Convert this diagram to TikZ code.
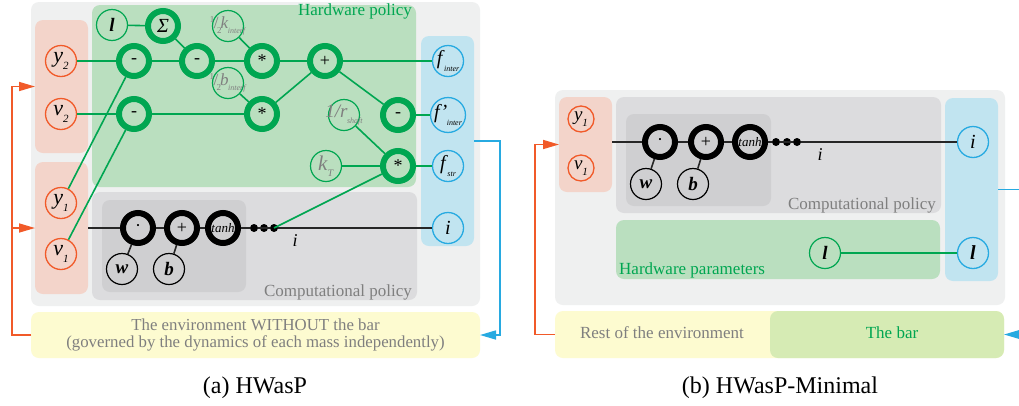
\documentclass[tikz,border=0pt]{standalone}
\usepackage{fontspec}
\setmainfont{Liberation Serif}
\usetikzlibrary{arrows.meta}
\definecolor{cOuter}{HTML}{EFF0F0}
\definecolor{cPink}{HTML}{F3D4CA}
\definecolor{cGreenBox}{HTML}{BADFBF}
\definecolor{cComp}{HTML}{DCDCDE}
\definecolor{cCompIn}{HTML}{CFCFD1}
\definecolor{cBlueBox}{HTML}{C1E4F0}
\definecolor{cYellow}{HTML}{FDFBD0}
\definecolor{cBar}{HTML}{D6EBB4}
\definecolor{cOrange}{HTML}{F15A29}
\definecolor{cBlue}{HTML}{27AAE1}
\definecolor{cGreen}{HTML}{00A651}
\definecolor{cGrayT}{HTML}{7F7F7F}
\newcommand\fs[1]{\fontsize{#1}{#1}\selectfont}
\newcommand\nsub[2]{\textit{#1}\raisebox{-0.3em}{\fs{11}\textit{#2}}}
\newcommand\tsub[2]{\textit{#1}\kern-0.5pt\raisebox{-0.35em}{\fs{8}\textit{#2}}}
\newcommand\half{\raisebox{0.3em}{\fs{9}1}\kern-0.5pt/\kern-1.5pt\raisebox{-0.3em}{\fs{9}2}}
\newcommand\fitin[1]{\raisebox{0pt}[8pt][4pt]{\makebox[22pt][c]{#1}}}
\tikzset{
  x=1pt, y=-1pt,
  box/.style={rounded corners=8pt, inner sep=0pt, outer sep=0pt, anchor=north west},
  onode/.style={circle, draw=cOrange, line width=1.3pt, minimum size=31pt, inner sep=0pt, font=\fs{22}},
  gthin/.style={circle, draw=cGreen, line width=1.2pt, minimum size=31pt, inner sep=0pt, font=\fs{19}},
  gthick/.style={circle, draw=cGreen, line width=6pt, minimum size=30pt, inner sep=0pt, font=\fs{18}},
  bnode/.style={circle, draw=cBlue, line width=1.3pt, minimum size=31pt, inner sep=0pt, font=\fs{20}},
  kthick/.style={circle, draw=black, line width=6pt, minimum size=30pt, inner sep=0pt, font=\fs{18}},
  kthin/.style={circle, draw=black, line width=1.2pt, minimum size=31pt, inner sep=0pt, font=\fs{19}},
  dotn/.style={circle, fill=black, minimum size=8pt, inner sep=0pt},
  gline/.style={draw=cGreen, line width=1.6pt},
  kline/.style={draw=black!85, line width=1.6pt},
  oline/.style={draw=cOrange, line width=1.6pt, -{Triangle[length=16pt,width=9pt]}},
  bline/.style={draw=cBlue, line width=1.6pt, -{Triangle[length=16pt,width=9pt]}},
  lbl/.style={inner sep=0pt, font=\fs{17}},
}
\begin{document}
\begin{tikzpicture}
\clip (0,0) rectangle (1019,405);
\fill[white] (0,0) rectangle (1019,405);
% ---------------- Panel (a) boxes
\node[box, fill=cOuter, minimum width=449pt, minimum height=304pt] (outerA) at (31,2) {};
\node[box, fill=cPink, minimum width=53pt, minimum height=133pt] (pinkTopA) at (35,20) {};
\node[box, fill=cPink, minimum width=53pt, minimum height=132pt] (pinkBotA) at (35,162) {};
\node[box, fill=cGreenBox, minimum width=324pt, minimum height=182pt] (hwA) at (92,5) {};
\node[box, fill=cComp, minimum width=325pt, minimum height=108pt] (compA) at (92,192) {};
\node[box, fill=cCompIn, minimum width=144pt, minimum height=92pt] (compInA) at (102,200) {};
\node[box, fill=cBlueBox, minimum width=53pt, minimum height=210pt] (blueA) at (421,36) {};
\node[box, fill=cYellow, minimum width=449pt, minimum height=46pt] (envA) at (31,312) {};
\node[lbl, text=cGreen, anchor=north east] (hwlblA) at (412,4) {Hardware policy};
\node[lbl, text=cGrayT, anchor=base east] (complblA) at (412,296) {Computational policy};
\node[lbl, text=cGrayT, align=center, font=\fs{16.8}\linespread{1.05}\selectfont] (envtxtA) at (envA.center) {The environment WITHOUT the bar\\(governed by the dynamics of each mass independently)};
% ---------------- Panel (a) nodes
\node[onode] (y2) at (61,61) {\nsub{y}{2}};
\node[onode] (v2) at (61,114) {\nsub{v}{2}};
\node[onode] (y1) at (61,203) {\nsub{y}{1}};
\node[onode] (v1) at (61,254) {\nsub{v}{1}};
\node[gthin] (lA) at (112,25) {\textbf{\textit{l}}};
\node[gthick, font=\fs{20}] (sig) at (163,26) {\textit{Σ}};
\node[gthick] (m1) at (134,61) {-};
\node[gthick] (m2) at (197,61) {-};
\node[gthick] (m3) at (134,114) {-};
\node[gthin, text=cGrayT, font=\fs{17}] (hk) at (228,26) {\fitin{\half\kern-1pt\tsub{k}{interf}}};
\node[gthin, text=cGrayT, font=\fs{17}] (hb) at (228,83) {\fitin{\half\kern-1pt\tsub{b}{interf}}};
\node[gthick] (st) at (262,61) {*};
\node[gthick] (sb) at (262,114) {*};
\node[gthick] (pl) at (325,61) {+};
\node[gthin, text=cGrayT] (rs) at (344,115) {\fitin{\tsub{1/r}{shaft}}};
\node[gthick] (m4) at (398,115) {-};
\node[gthin, text=cGrayT, font=\fs{21}] (kt) at (326,166) {\textit{k}\raisebox{-0.3em}{\fs{10}\textit{T}}};
\node[gthick] (sl) at (398,166) {*};
\node[bnode] (fi) at (448,61) {\tsub{f}{inter}};
\node[bnode] (fpi) at (448,115) {\tsub{f\kern1pt'}{inter}};
\node[bnode] (fst) at (448,166) {\tsub{f}{str}};
\node[bnode] (iA) at (448,228) {\textit{i}};
\node[kthick] (dotA) at (138,228) {·};
\node[kthick] (plA) at (182,228) {+};
\node[kthick, font=\fs{13}] (tA) at (223,228) {\textit{tanh}};
\node[kthin] (wA) at (122,269) {\textbf{\textit{w}}};
\node[kthin] (bA) at (169,269) {\textbf{\textit{b}}};
\node[dotn] (d1A) at (254,228) {};
\node[dotn] (d2A) at (264,228) {};
\node[dotn] (d3A) at (274,228) {};
\node[lbl, font=\fs{18}] (ilblA) at (295,241) {\textit{i}};
% ---------------- Panel (a) connectors
\draw[gline] (y2) -- (m1);
\draw[gline] (v2) -- (m3);
\draw[gline] (lA) -- (sig);
\draw[gline] (sig) -- (m2);
\draw[gline] (m1) -- (m2);
\draw[gline] (m2) -- (st);
\draw[gline] (hk) -- (st);
\draw[gline] (hb) -- (sb);
\draw[gline] (m3) -- (sb);
\draw[gline] (st) -- (pl);
\draw[gline] (sb) -- (pl);
\draw[gline] (pl) -- (fi);
\draw[gline] (pl) -- (m4);
\draw[gline] (m4) -- (fpi);
\draw[gline] (rs) -- (sl);
\draw[gline] (kt) -- (sl);
\draw[gline] (sl) -- (fst);
\draw[gline] (y1) -- (m1);
\draw[gline] (v1) -- (m3);
\draw[gline] (d3A.center) -- (sl);
\draw[kline] (pinkBotA.east) -- (dotA);
\draw[kline] (dotA) -- (plA);
\draw[kline] (plA) -- (tA);
\draw[kline] (tA) -- (d1A);
\draw[kline] (d1A) -- (d3A);
\draw[kline] (d3A) -- (iA);
\draw[kline] (wA) -- (dotA);
\draw[kline] (bA) -- (plA);
\draw[bline] (blueA.east) -- ++(26,0) |- (envA.east);
\draw[oline] (envA.west) -- ++(-19,0) |- (pinkTopA.west);
\draw[oline] (envA.west) -- ++(-19,0) |- (pinkBotA.west);
\node[font=\fs{24}] (capA) at (255,388) {(a) HWasP};
% ---------------- Panel (b) boxes
\node[box, fill=cOuter, minimum width=450pt, minimum height=215pt] (outerB) at (555,90) {};
\node[box, fill=cPink, minimum width=53pt, minimum height=95pt] (pinkB) at (559,97) {};
\node[box, fill=cComp, minimum width=325pt, minimum height=116pt] (compB) at (616,97) {};
\node[box, fill=cCompIn, minimum width=145pt, minimum height=92pt] (compInB) at (626,114) {};
\node[box, fill=cGreenBox, minimum width=324pt, minimum height=59pt] (hwB) at (616,220) {};
\node[box, fill=cBlueBox, minimum width=53pt, minimum height=183pt] (blueB) at (945,98) {};
\node[box, fill=cYellow, minimum width=449pt, minimum height=47pt] (envB) at (555,311) {};
\node[box, fill=cBar, minimum width=234pt, minimum height=47pt] (barB) at (770,311) {};
\node[lbl, text=cGrayT, anchor=base east] (complblB) at (936,209) {Computational policy};
\node[lbl, text=cGreen, anchor=base west] (hwlblB) at (619,274) {Hardware parameters};
\node[lbl, text=cGrayT] (resttxt) at (662,333) {Rest of the environment};
\node[lbl, text=cGreen] (bartxt) at (892,333) {The bar};
% ---------------- Panel (b) nodes
\node[onode, minimum size=26pt, font=\fs{19}] (y1B) at (581,119) {\nsub{y}{1}};
\node[onode, minimum size=26pt, font=\fs{19}] (v1B) at (581,168) {\nsub{v}{1}};
\node[kthick] (dotB) at (660,142) {·};
\node[kthick] (plB) at (706,142) {+};
\node[kthick, font=\fs{13}] (tB) at (750,142) {\textit{tanh}};
\node[kthin] (wB) at (646,184) {\textbf{\textit{w}}};
\node[kthin] (bB) at (693,184) {\textbf{\textit{b}}};
\node[dotn] (d1B) at (776,142) {};
\node[dotn] (d2B) at (787,142) {};
\node[dotn] (d3B) at (797,142) {};
\node[bnode] (iB) at (973,142) {\textit{i}};
\node[lbl, font=\fs{18}] (ilblB) at (820,155) {\textit{i}};
\node[gthin] (lB) at (825,253) {\textbf{\textit{l}}};
\node[bnode] (lB2) at (973,253) {\textbf{\textit{l}}};
% ---------------- Panel (b) connectors
\draw[kline] (pinkB.east |- dotB) -- (dotB);
\draw[kline] (dotB) -- (plB);
\draw[kline] (plB) -- (tB);
\draw[kline] (tB) -- (d1B);
\draw[kline] (d1B) -- (d3B);
\draw[kline] (d3B) -- (iB);
\draw[kline] (wB) -- (dotB);
\draw[kline] (bB) -- (plB);
\draw[gline] (lB) -- (lB2);
\draw[oline] (envB.west) -- ++(-20,0) |- (pinkB.west);
\draw[bline] (blueB.east) -- ++(26,0) |- (barB.east);
\node[font=\fs{24}] (capB) at (780,388) {(b) HWasP-Minimal};
\end{tikzpicture}
\end{document}
